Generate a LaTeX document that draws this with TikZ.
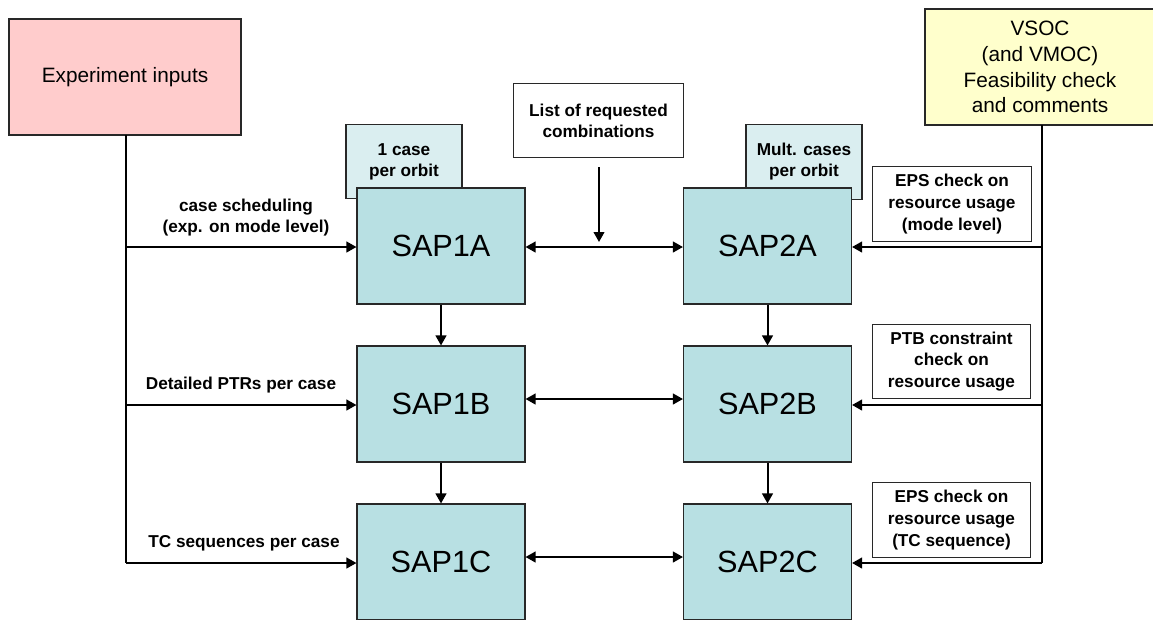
\documentclass[tikz,border=0pt]{standalone}
\usepackage{fontspec}
\setmainfont{Liberation Sans}
\usetikzlibrary{arrows.meta}
\definecolor{sapfill}{RGB}{184,224,227}
\definecolor{casefill}{RGB}{218,238,240}
\definecolor{pinkfill}{RGB}{255,204,204}
\definecolor{yelfill}{RGB}{255,255,204}
\definecolor{edge}{RGB}{40,40,40}
\tikzset{
  box/.style={draw=edge, line width=0.8pt, rectangle, inner sep=0pt, align=center},
  sapbox/.style={box, fill=sapfill, minimum width=126pt, minimum height=87pt, font=\fontsize{23}{27}\selectfont},
  casebox/.style={box, fill=casefill, minimum width=87pt, minimum height=56pt, font=\bfseries\fontsize{12.9}{15.8}\selectfont},
  notebox/.style={box, fill=white, minimum width=119pt, minimum height=56pt, font=\bfseries\fontsize{12.9}{16.2}\selectfont},
  bigbox/.style={box, minimum height=87pt, font=\fontsize{15.6}{19.3}\selectfont},
  lbl/.style={align=center, inner sep=0pt, font=\bfseries\fontsize{12.9}{16.2}\selectfont},
  conn/.style={line width=1.5pt, -{Triangle[length=7.5pt,width=8pt]}},
  dbl/.style={line width=1.5pt, {Triangle[length=7.5pt,width=8pt]}-{Triangle[length=7.5pt,width=8pt]}},
  plain/.style={line width=1.5pt}
}
\begin{document}
\begin{tikzpicture}[x=0.75pt,y=-0.75pt]
\useasboundingbox (0,0) rectangle (1153,619);
% top boxes
\node[bigbox, fill=pinkfill, minimum width=174pt] (exp) at (125,77) {Experiment inputs};
\node[bigbox, fill=yelfill, minimum width=172.5pt] (vsoc) at (1040,67) {VSOC\\(and VMOC)\\Feasibility check\\and comments};
\node[box, fill=white, minimum width=127pt, minimum height=55pt, font=\bfseries\fontsize{12.9}{15.8}\selectfont] (list) at (598.5,120.5) {List of requested\\combinations};
% case boxes (behind)
\node[casebox] (c1) at (404,161.5) {1 case\\per orbit};
\node[casebox] (c2) at (804,162) {Mult. cases\\per orbit};
% SAP boxes
\node[sapbox] (s1a) at (441,246) {SAP1A};
\node[sapbox] (s1b) at (441,404) {SAP1B};
\node[sapbox] (s1c) at (441,562) {SAP1C};
\node[sapbox] (s2a) at (767.5,246) {SAP2A};
\node[sapbox] (s2b) at (767.5,404) {SAP2B};
\node[sapbox] (s2c) at (767.5,562) {SAP2C};
% note boxes
\node[notebox] (n1) at (952,204) {EPS check on\\resource usage\\(mode level)};
\node[notebox] (n2) at (951.5,361.5) {PTB constraint\\check on\\resource usage};
\node[notebox] (n3) at (951.5,520) {EPS check on\\resource usage\\(TC sequence)};
% labels
\node[lbl] (l1) at (246,217.5) {case scheduling\\(exp. on mode level)};
\node[lbl] (l2) at (241,385) {Detailed PTRs per case};
\node[lbl] (l3) at (244,543) {TC sequences per case};
% coordinates
\coordinate (ltop) at (126,135);
\coordinate (la) at (126,247);
\coordinate (lb) at (126,405);
\coordinate (lc) at (126,563);
\coordinate (rtop) at (1042,125);
\coordinate (ra) at (1042,247);
\coordinate (rb) at (1042,405);
\coordinate (rc) at (1042,563);
\coordinate (lst) at (599,167);
\coordinate (lse) at (599,242);
% left trunk
\draw[plain] (ltop) -- (lc);
\draw[conn] (la) -- (s1a.west |- la);
\draw[conn] (lb) -- (s1b.west |- lb);
\draw[conn] (lc) -- (s1c.west |- lc);
% right trunk
\draw[plain] (rtop) -- (rc);
\draw[conn] (ra) -- (s2a.east |- ra);
\draw[conn] (rb) -- (s2b.east |- rb);
\draw[conn] (rc) -- (s2c.east |- rc);
% verticals
\draw[conn] (s1a.south) -- (s1b.north);
\draw[conn] (s1b.south) -- (s1c.north);
\draw[conn] (s2a.south) -- (s2b.north);
\draw[conn] (s2b.south) -- (s2c.north);
% horizontals
\draw[dbl] (s1a.east |- 0,247) -- (s2a.west |- 0,247);
\draw[dbl] (s1b.east |- 0,399) -- (s2b.west |- 0,399);
\draw[dbl] (s1c.east |- 0,557) -- (s2c.west |- 0,557);
\draw[conn] (lst) -- (lse);
\end{tikzpicture}
\end{document}
